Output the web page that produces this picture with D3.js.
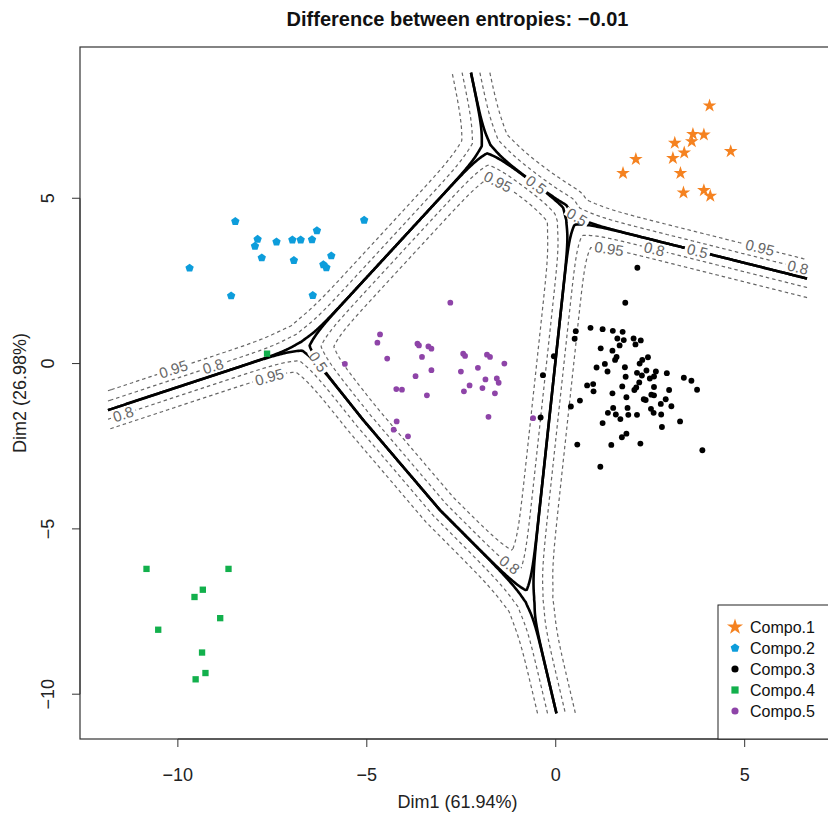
<!DOCTYPE html>
<html>
<head>
<meta charset="utf-8">
<script src="https://cdn.jsdelivr.net/npm/d3@7"></script>
<style>
  body { margin: 0; background: #fff; }
  text { font-family: "Liberation Sans", Arial, Helvetica, sans-serif; }
</style>
</head>
<body>
<div id="chart"></div>
<script>
// ---- data (Dim1, Dim2) ----
var compo1 = [[4.07,7.80],[3.63,6.94],[3.92,6.92],[3.15,6.67],[3.60,6.72],[4.63,6.42],[2.12,6.18],
  [3.40,6.38],[3.10,6.21],[1.78,5.76],[3.30,5.76],[3.38,5.17],[3.92,5.24],[4.09,5.07]];
var compo2 = [[-8.48,4.30],[-9.69,2.89],[-7.89,3.76],[-7.96,3.55],[-7.39,3.68],[-7.78,3.20],[-6.97,3.74],
  [-6.75,3.74],[-6.45,3.75],[-6.32,4.02],[-6.93,3.12],[-5.94,3.26],[-6.15,2.99],[-6.07,2.90],
  [-8.59,2.05],[-6.43,2.06],[-5.07,4.34]];
var compo3 = [[1.84,1.84],[0.92,1.08],[1.24,1.04],[1.51,0.99],[1.77,0.96],[0.53,0.98],[0.50,0.75],
  [1.63,0.76],[1.80,0.71],[2.06,0.76],[2.25,0.70],[1.69,0.55],[2.11,0.58],[1.19,0.46],[1.50,0.39],
  [1.61,0.20],[1.57,0.11],[2.44,0.19],[2.29,0.11],[2.22,0.00],[1.30,-0.01],[1.08,-0.12],[1.83,-0.11],
  [1.37,-0.24],[2.40,-0.21],[2.65,-0.24],[2.15,-0.28],[2.28,-0.36],[2.49,-0.45],[2.60,-0.39],
  [2.94,-0.29],[1.85,-0.40],[3.39,-0.43],[3.59,-0.52],[2.21,-0.57],[-0.34,-0.35],[-0.05,0.22],
  [0.83,-0.66],[0.99,-0.62],[1.76,-0.69],[2.13,-0.72],[2.60,-0.71],[1.00,-0.84],[1.50,-0.90],
  [2.08,-0.80],[3.00,-0.80],[3.74,-0.79],[1.87,-1.02],[2.53,-0.94],[2.60,-0.96],[2.33,-1.08],
  [2.38,-1.10],[2.91,-1.08],[0.64,-1.12],[2.78,-1.22],[3.06,-1.29],[0.40,-1.30],[1.52,-1.34],
  [1.90,-1.34],[2.52,-1.37],[1.38,-1.49],[1.59,-1.54],[1.92,-1.55],[2.15,-1.55],[2.59,-1.49],
  [2.79,-1.54],[-0.40,-1.63],[1.71,-1.68],[1.24,-1.80],[3.29,-1.75],[2.81,-1.92],[1.87,-2.12],
  [1.75,-2.23],[0.57,-2.45],[1.47,-2.46],[2.24,-2.42],[3.88,-2.62],[1.18,-3.12],[2.16,2.90]];
var compo4 = [[-10.83,-6.21],[-8.66,-6.21],[-9.34,-6.84],[-9.56,-7.06],[-8.88,-7.70],[-10.52,-8.05],
  [-9.36,-8.74],[-9.27,-9.36],[-9.53,-9.55],[-7.64,0.30]];
var compo5 = [[-2.79,1.84],[-4.65,0.88],[-4.72,0.63],[-3.66,0.60],[-3.62,0.55],[-3.37,0.52],[-3.29,0.45],
  [-3.54,0.20],[-4.46,0.15],[-2.45,0.30],[-2.40,0.23],[-1.82,0.27],[-1.74,0.20],[-1.36,0.00],
  [-5.58,-0.01],[-3.29,-0.20],[-2.51,-0.24],[-2.06,-0.13],[-3.71,-0.38],[-1.86,-0.48],[-1.56,-0.45],
  [-1.51,-0.58],[-2.28,-0.66],[-1.94,-0.74],[-4.22,-0.77],[-4.07,-0.79],[-2.43,-0.84],[-1.61,-0.90],
  [-3.41,-0.96],[-1.78,-1.61],[-4.21,-1.75],[-4.29,-2.00],[-3.91,-2.20],[-0.60,-1.65]];

var compoNames = ["Compo.1", "Compo.2", "Compo.3", "Compo.4", "Compo.5"];

// cluster boundaries: where three components meet, and where each border leaves the grid
var junctions = [[-6.667, 0.545], [-1.833, 6.536], [0.397, 4.364], [-0.688, -7.152]];
var borderEnds = [[-2.243, 8.80], [6.632, 2.576], [0.018, -10.576], [-11.852, -1.409]]; // top, right, bottom, left
var bendPurpleOrange = [[0.238, 4.758]];
var bendPurpleGreen = [[-5.10, -1.70], [-3.069, -4.424]];

var gridX = [-11.85, 6.65];
var gridY = [-10.58, 8.80];
var levels = [0.5, 0.8, 0.95];

var xTicks = [-10, -5, 0, 5];
var yTicks = [-10, -5, 0, 5];

// contour labels: component index, level, near which point
var contourLabels = [
  [1, 0.95, [-10.08, -0.30]], [1, 0.8, [-9.02, -0.24]], [3, 0.8, [-11.46, -1.42]],
  [3, 0.95, [-7.57, -0.52]], [4, 0.5, [-6.59, -0.18]], [4, 0.95, [-1.48, 5.58]],
  [4, 0.5, [-0.56, 5.36]], [0, 0.5, [0.58, 4.52]], [2, 0.95, [1.43, 3.73]],
  [2, 0.8, [2.62, 3.55]], [0, 0.5, [3.73, 3.39]], [0, 0.95, [5.34, 3.24]],
  [0, 0.8, [6.40, 2.79]], [4, 0.8, [-1.14, -5.94]]
];

// ---- layout ----
var svgWidth = 828;
var svgHeight = 813;
var plot = {left: 80, right: 835, top: 47, bottom: 739};

var xPad = 0.04 * (gridX[1] - gridX[0]);
var yPad = 0.04 * (gridY[1] - gridY[0]);
var xScale = d3.scaleLinear().domain([gridX[0] - xPad, gridX[1] + xPad]).range([plot.left, plot.right]);
var yScale = d3.scaleLinear().domain([gridY[0] - yPad, gridY[1] + yPad]).range([plot.bottom, plot.top]);

var colors = ["#f58220", "#0d9ddb", "#000000", "#12b04c", "#8e44a8"];

var svg = d3.select("#chart").append("svg")
  .attr("width", svgWidth)
  .attr("height", svgHeight);

// ---- posterior-like field from the regions ----
function far(j, e) { return [j[0] + 30 * (e[0] - j[0]), j[1] + 30 * (e[1] - j[1])]; }
var J1 = junctions[0], J2 = junctions[1], J3 = junctions[2], J4 = junctions[3];
var fTop = far(J2, borderEnds[0]), fRight = far(J3, borderEnds[1]);
var fBottom = far(J4, borderEnds[2]), fLeft = far(J1, borderEnds[3]);

var regions = [
  [J2].concat(bendPurpleOrange, [J3, fRight, [300, 300], fTop]),               // Compo.1
  [fLeft, J1, J2, fTop, [-300, 300]],                                          // Compo.2
  [J3, J4, fBottom, [300, -300], fRight],                                      // Compo.3
  [J1].concat(bendPurpleGreen, [J4, fBottom, [-300, -300], fLeft]),            // Compo.4
  [J1, J2].concat(bendPurpleOrange, [J3, J4], bendPurpleGreen.slice().reverse()) // Compo.5
];
var regionsPx = regions.map(r => r.map(p => [xScale(p[0]), yScale(p[1])]));

function signedDist(poly, x, y) {
  var best = Infinity, inside = false;
  for (var a = 0, b = poly.length - 1; a < poly.length; b = a++) {
    var x1 = poly[b][0], y1 = poly[b][1], x2 = poly[a][0], y2 = poly[a][1];
    if ((y2 > y) !== (y1 > y) && x < (x1 - x2) * (y - y2) / (y1 - y2) + x2) inside = !inside;
    var dx = x2 - x1, dy = y2 - y1;
    var t = ((x - x1) * dx + (y - y1) * dy) / (dx * dx + dy * dy);
    t = Math.max(0, Math.min(1, t));
    var ex = x1 + t * dx - x, ey = y1 + t * dy - y, d = ex * ex + ey * ey;
    if (d < best) best = d;
  }
  best = Math.sqrt(best);
  return inside ? -best : best;
}

var nx = 460, ny = 480;
var stepX = (gridX[1] - gridX[0]) / (nx - 1);
var stepY = (gridY[1] - gridY[0]) / (ny - 1);
var sharp = 0.08;
var fields = regions.map(() => new Array(nx * ny));
var sd = new Array(5);
for (var j = 0; j < ny; j++) {
  var py = yScale(gridY[1] - j * stepY);
  for (var i = 0; i < nx; i++) {
    var px = xScale(gridX[0] + i * stepX);
    var mn = Infinity;
    for (var k = 0; k < 5; k++) { sd[k] = signedDist(regionsPx[k], px, py); if (sd[k] < mn) mn = sd[k]; }
    var tot = 0;
    for (k = 0; k < 5; k++) { sd[k] = Math.exp(-sharp * (sd[k] - mn)); tot += sd[k]; }
    for (k = 0; k < 5; k++) fields[k][j * nx + i] = sd[k] / tot;
  }
}

// contour lines, cut where they run along the grid border
var segments = [];
var contourGen = d3.contours().size([nx, ny]).thresholds(levels);
fields.forEach(function(f, k) {
  contourGen(f).forEach(function(mp) {
    mp.coordinates.forEach(function(poly) {
      poly.forEach(function(ring) {
        var cur = [];
        ring.forEach(function(p) {
          var onBorder = p[0] <= 1e-9 || p[0] >= nx - 1e-9 || p[1] <= 1e-9 || p[1] >= ny - 1e-9;
          if (onBorder) {
            if (cur.length > 1) segments.push({k: k, level: mp.value, pts: cur});
            cur = [];
          } else {
            cur.push([gridX[0] + (p[0] - 0.5) * stepX, gridY[1] - (p[1] - 0.5) * stepY]);
          }
        });
        if (cur.length > 1) segments.push({k: k, level: mp.value, pts: cur});
      });
    });
  });
});

var line = d3.line().x(d => xScale(d[0])).y(d => yScale(d[1]));

var contourGroup = svg.append("g");
contourGroup.selectAll(".dashed")
  .data(segments.filter(s => s.level !== 0.5))
  .enter()
  .append("path")
  .attr("d", d => line(d.pts))
  .attr("fill", "none")
  .attr("stroke", "#666")
  .attr("stroke-width", 1.2)
  .attr("stroke-dasharray", "3.5,3");
contourGroup.selectAll(".solid")
  .data(segments.filter(s => s.level === 0.5))
  .enter()
  .append("path")
  .attr("d", d => line(d.pts))
  .attr("fill", "none")
  .attr("stroke", "#000")
  .attr("stroke-width", 2.6)
  .attr("stroke-linejoin", "round");

// contour labels sit on their line, turned along it
var labelGroup = svg.append("g");
contourLabels.forEach(function(lab) {
  var tx = xScale(lab[2][0]), ty = yScale(lab[2][1]);
  var best = null, bestD = Infinity;
  segments.forEach(function(s) {
    if (s.k !== lab[0] || s.level !== lab[1]) return;
    s.pts.forEach(function(p, idx) {
      var dx = xScale(p[0]) - tx, dy = yScale(p[1]) - ty, d = dx * dx + dy * dy;
      if (d < bestD) { bestD = d; best = {s: s, idx: idx}; }
    });
  });
  if (!best) return;
  var pts = best.s.pts, n = pts.length;
  var a = pts[Math.max(0, best.idx - 4)], b = pts[Math.min(n - 1, best.idx + 4)];
  var ang = Math.atan2(yScale(b[1]) - yScale(a[1]), xScale(b[0]) - xScale(a[0])) * 180 / Math.PI;
  if (ang > 90) ang -= 180;
  if (ang < -90) ang += 180;
  var p = pts[best.idx];
  var g = labelGroup.append("g")
    .attr("transform", `translate(${xScale(p[0])},${yScale(p[1])}) rotate(${ang})`);
  var txt = String(lab[1]);
  g.append("rect")
    .attr("x", -txt.length * 4.3).attr("y", -4.5)
    .attr("width", txt.length * 8.6).attr("height", 9)
    .attr("fill", "#fff");
  g.append("text")
    .attr("text-anchor", "middle")
    .attr("dy", "0.35em")
    .style("font-size", "15px")
    .attr("fill", "#666")
    .text(txt);
});

// ---- points ----
var symbolPentagon = {
  draw: function(context, size) {
    var r = Math.sqrt(size / (2.5 * Math.sin(2 * Math.PI / 5)));
    for (var q = 0; q < 5; q++) {
      var t = -Math.PI / 2 + q * 2 * Math.PI / 5;
      if (q) context.lineTo(r * Math.cos(t), r * Math.sin(t));
      else context.moveTo(r * Math.cos(t), r * Math.sin(t));
    }
    context.closePath();
  }
};
var symbolTypes = [d3.symbolStar, symbolPentagon, d3.symbolCircle, d3.symbolSquare, d3.symbolCircle];
var symbolSizes = [58, 46, 27, 40, 26];
var legendSizes = [80, 50, 40, 52, 40];

var allCompos = [compo1, compo2, compo3, compo4, compo5];
allCompos.forEach(function(data, k) {
  svg.append("g").selectAll("path")
    .data(data)
    .enter()
    .append("path")
    .attr("transform", d => `translate(${xScale(d[0])},${yScale(d[1])})`)
    .attr("d", d3.symbol().type(symbolTypes[k]).size(symbolSizes[k]))
    .attr("fill", colors[k]);
});

// ---- frame and axes (R style) ----
svg.append("rect")
  .attr("x", plot.left).attr("y", plot.top)
  .attr("width", plot.right - plot.left).attr("height", plot.bottom - plot.top)
  .attr("fill", "none").attr("stroke", "#333").attr("stroke-width", 1.2);

var axisColor = "#333";
var xAxis = svg.append("g");
xAxis.append("line")
  .attr("x1", xScale(xTicks[0])).attr("x2", xScale(xTicks[xTicks.length - 1]))
  .attr("y1", plot.bottom).attr("y2", plot.bottom).attr("stroke", axisColor);
xAxis.selectAll(".tick").data(xTicks).enter().append("line")
  .attr("x1", d => xScale(d)).attr("x2", d => xScale(d))
  .attr("y1", plot.bottom).attr("y2", plot.bottom + 8).attr("stroke", axisColor);
xAxis.selectAll("text").data(xTicks).enter().append("text")
  .attr("x", d => xScale(d)).attr("y", 775).attr("dy", "0.35em")
  .attr("text-anchor", "middle").style("font-size", "18px").attr("fill", "#222")
  .text(d => d < 0 ? "\u2212" + Math.abs(d) : d);

var yAxis = svg.append("g");
yAxis.append("line")
  .attr("y1", yScale(yTicks[0])).attr("y2", yScale(yTicks[yTicks.length - 1]))
  .attr("x1", plot.left).attr("x2", plot.left).attr("stroke", axisColor);
yAxis.selectAll(".tick").data(yTicks).enter().append("line")
  .attr("y1", d => yScale(d)).attr("y2", d => yScale(d))
  .attr("x1", plot.left).attr("x2", plot.left - 8).attr("stroke", axisColor);
yAxis.selectAll("text").data(yTicks).enter().append("text")
  .attr("transform", d => `translate(48,${yScale(d)}) rotate(-90)`)
  .attr("dy", "0.35em")
  .attr("text-anchor", "middle").style("font-size", "18px").attr("fill", "#222")
  .text(d => d < 0 ? "\u2212" + Math.abs(d) : d);

svg.append("text")
  .attr("x", (plot.left + plot.right) / 2).attr("y", 802).attr("dy", "0.35em")
  .attr("text-anchor", "middle").style("font-size", "18px").attr("fill", "#222")
  .text("Dim1 (61.94%)");
svg.append("text")
  .attr("transform", `translate(20,${(plot.top + plot.bottom) / 2}) rotate(-90)`)
  .attr("dy", "0.35em")
  .attr("text-anchor", "middle").style("font-size", "18px").attr("fill", "#222")
  .text("Dim2 (26.98%)");

svg.append("text")
  .attr("x", (plot.left + plot.right) / 2).attr("y", 19).attr("dy", "0.35em")
  .attr("text-anchor", "middle").style("font-size", "20px").style("font-weight", "bold")
  .attr("fill", "#111")
  .text("Difference between entropies: \u22120.01");

// ---- legend ----
var legend = svg.append("g").attr("transform", "translate(718,605)");
legend.append("rect")
  .attr("width", plot.right - 718).attr("height", plot.bottom - 605)
  .attr("fill", "#fff").attr("stroke", "#222").attr("stroke-width", 1);
var items = legend.selectAll(".item").data(compoNames).enter().append("g")
  .attr("transform", (d, q) => `translate(0,${22 + q * 21})`);
items.append("path")
  .attr("transform", "translate(17,0)")
  .attr("d", (d, q) => d3.symbol().type(symbolTypes[q]).size(legendSizes[q])())
  .attr("fill", (d, q) => colors[q]);
items.append("text")
  .attr("x", 32).attr("dy", "0.35em")
  .style("font-size", "16px").attr("fill", "#111")
  .text(d => d);
</script>
</body>
</html>
